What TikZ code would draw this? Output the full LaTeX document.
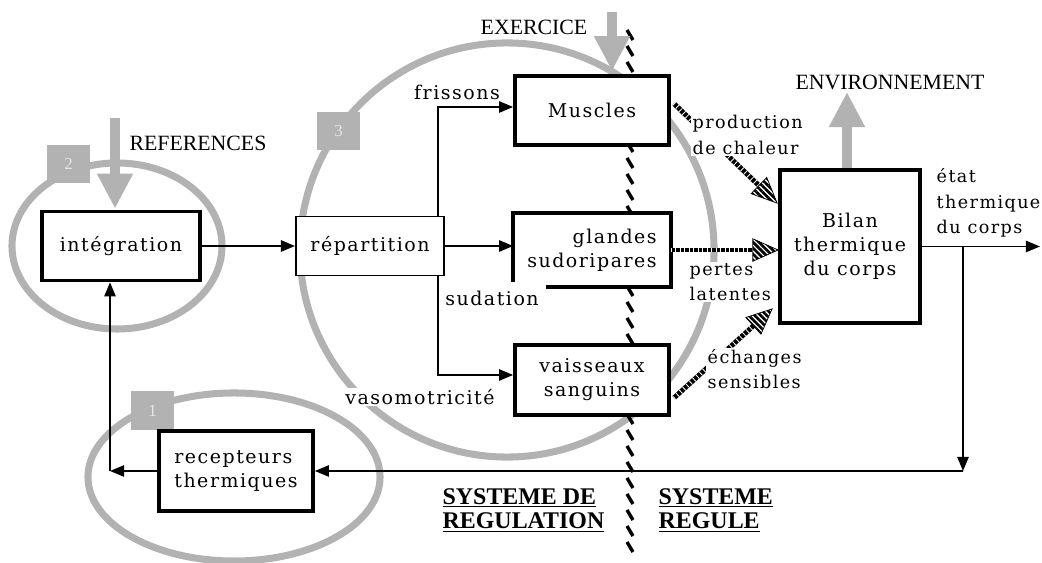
\documentclass[tikz,border=0pt]{standalone}
\usepackage{fontspec}
\setmainfont{Liberation Serif}
\newfontfamily\boxfont[LetterSpace=8]{DejaVu Serif}
\usepackage{xcolor}
\usepackage{tikz}
\usetikzlibrary{calc,arrows.meta,patterns.meta}

\newcommand{\heatarrow}[2]{%
  \coordinate (hbase) at ($#2!18pt!#1$);
  \draw[heatshaft] #1 -- (hbase);
  \filldraw[heathead] #2 -- ($(hbase)!8pt!90:#2$) -- ($(hbase)!8pt!-90:#2$) -- cycle;
}

\begin{document}
\begin{tikzpicture}[x=0.025cm, y=-0.025cm,
    box/.style={draw, line width=2.6pt, fill=white, inner sep=2pt, align=center,
      font=\boxfont\fontsize{13.5}{17}\selectfont},
    lbl/.style={inner sep=1pt, align=left, font=\boxfont\fontsize{13.5}{17}\selectfont},
    smalllbl/.style={inner sep=1pt, align=left, font=\boxfont\fontsize{12.5}{18}\selectfont},
    caps/.style={inner sep=1pt, font=\fontsize{15.5}{18}\selectfont},
    bigcaps/.style={inner sep=1pt, align=left, font=\bfseries\fontsize{17}{17.5}\selectfont},
    conn/.style={line width=1.3pt, -{Triangle[length=10pt,width=8pt]}},
    ring/.style={draw=gray!60, line width=5pt},
    numsq/.style={fill=gray!60, minimum width=1.075cm, minimum height=0.95cm,
      text=gray!20, font=\fontsize{12}{12}\selectfont},
    grayarrow/.style={draw=gray!60, line width=7pt, -{Triangle[length=25pt,width=24pt]}},
    heatshaft/.style={line width=3.5pt, postaction={draw=white, line width=3.5pt, dash pattern=on 0.6pt off 2.6pt}},
    heathead/.style={draw=black, line width=0.5pt, pattern={Lines[angle=-45,distance=3pt,line width=1.9pt]}}
  ]
    \useasboundingbox (0,0) rectangle (1042,563);

    % loops of the three levels
    \draw[ring] (117,246) ellipse [x radius=2.625cm, y radius=2.075cm];
    \draw[ring] (507,250) circle [radius=5.175cm];
    \draw[ring] (234,477) ellipse [x radius=3.65cm, y radius=2.1cm];
    \node[numsq] (n2) at (68.5,164) {2};
    \node[numsq] (n3) at (338.5,131) {3};
    \node[numsq] (n1) at (152.5,410.5) {1};

    % border between the two systems
    \foreach \y in {30,46,...,550}{
        \draw[line width=2.4pt] (627,\y) -- (633,\y+10);
    }

    \node[box, minimum width=3.95cm, minimum height=1.725cm] (integ) at (121,246) {intégration};
    \node[box, line width=1.4pt, minimum width=3.7cm, minimum height=1.475cm] (repart) at (370,246) {répartition};
    \node[box, minimum width=3.85cm, minimum height=1.725cm] (muscles) at (592,110.5) {Muscles};
    \node[box, draw=none, align=right, minimum width=3.85cm, minimum height=1.75cm] (glandes) at (592,250) {glandes\\sudoripares};
    \draw[line width=2.6pt] ($(glandes.south west)+(33,0)$) -- (glandes.south east) -- (glandes.north east)
        -- (glandes.north west) -- ($(glandes.south west)+(0,-5)$);
    \node[box, minimum width=3.85cm, minimum height=1.75cm] (vaiss) at (592,380) {vaisseaux\\sanguins};
    \node[box, minimum width=3.5cm, minimum height=3.825cm] (bilan) at (850,246.5) {Bilan\\thermique\\du corps};
    \node[box, align=left, minimum width=3.85cm, minimum height=2cm] (recep) at (236,471) {recepteurs\\thermiques};

    % commands
    \draw[conn] (integ.east) -- (repart.west);
    \coordinate (fork) at ($(repart.north east)+(-7,0)$);
    \coordinate (forkb) at ($(repart.south east)+(-7,0)$);
    \draw[conn] (fork) |- ($(muscles.west)+(0,-3.5)$);
    \draw[conn] (repart.east) -- (repart.east -| glandes.west);
    \draw[conn] (forkb) |- ($(vaiss.west)+(0,-5)$);

    % feedback
    \coordinate (out) at (1040,246.5);
    \coordinate (branch) at (963,246.5);
    \coordinate (corner) at (963,471);
    \coordinate (elbow) at (110,471);
    \draw[conn] (bilan.east) -- (out);
    \draw[conn] (branch) -- (corner);
    \draw[conn] (corner) -- (recep.east);
    \draw[conn] (recep.west) -- (elbow);
    \draw[conn] (elbow) -- (elbow |- integ.south);

    % heat flows
    \coordinate (prodA) at ($(muscles.east)+(3,-7)$);
    \coordinate (prodB) at ($(bilan.north west)+(-1,35)$);
    \coordinate (echA) at ($(vaiss.east)+(3,18)$);
    \coordinate (echB) at ($(bilan.south west)+(-6,-16)$);
    \heatarrow{(prodA)}{(prodB)}
    \heatarrow{(glandes.east)}{(bilan.west |- glandes.east)}
    \heatarrow{(echA)}{(echB)}

    % outside inputs
    \coordinate (reftop) at (115,118);
    \coordinate (exotop) at (612,12);
    \coordinate (envtip) at (847,92);
    \draw[grayarrow] (reftop) -- ($(integ.north)+(-6,-1)$);
    \draw[grayarrow] (exotop) -- ($(muscles.north)+(20,-3)$);
    \draw[grayarrow] ($(bilan.north)+(-3,0)$) -- (envtip);

    \node[caps] (refs) at (198,143) {REFERENCES};
    \node[caps] (exo) at (534,27) {EXERCICE};
    \node[caps] (envt) at (890,82) {ENVIRONNEMENT};

    \node[lbl] (friss) at (457,92) {frissons};
    \node[lbl] (sudat) at (492,298) {sudation};
    \node[lbl, fill=white] (vaso) at (420,397) {vasomotricité};
    \node[smalllbl, anchor=west, fill=white] (prod) at (691,135) {production\\de chaleur};
    \node[smalllbl, anchor=west, fill=white] (pertes) at (688,282) {pertes\\latentes};
    \node[smalllbl, anchor=west, fill=white] (echg) at (706,369) {échanges\\sensibles};
    \node[smalllbl, anchor=west] (etat) at (935,203) {état\\thermique\\du corps};

    \node[bigcaps, anchor=west] (sdr) at (441,510) {\underline{SYSTEME DE}\\\underline{REGULATION}};
    \node[bigcaps, anchor=west] (sr) at (657,510) {\underline{SYSTEME}\\\underline{REGULE}};
\end{tikzpicture}
\end{document}
